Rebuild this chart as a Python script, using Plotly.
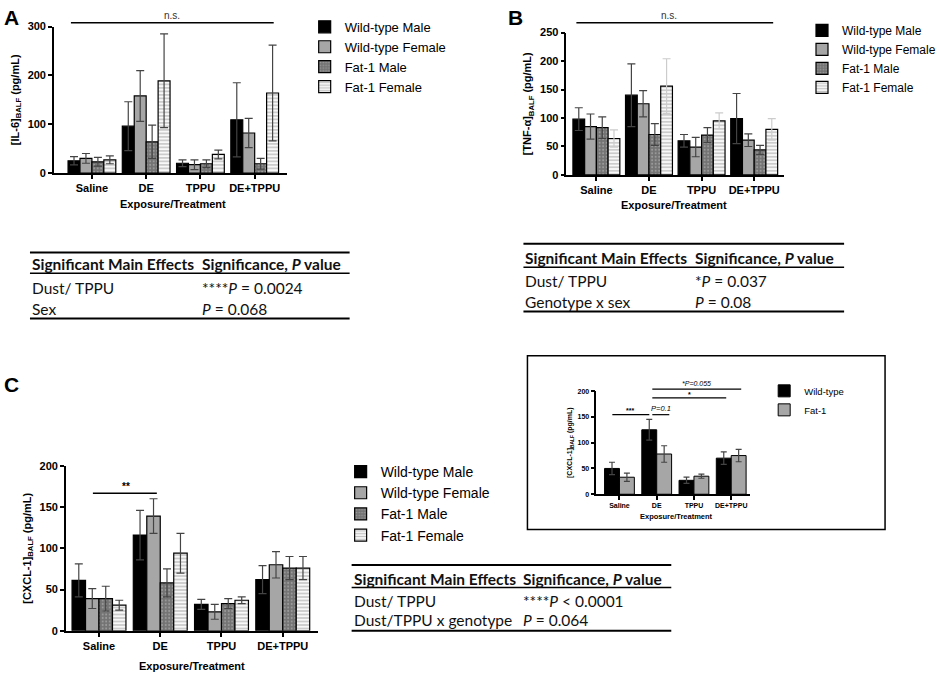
import plotly.graph_objects as go

W, H = 941, 681

# ---- data ----
categories = ["Saline", "DE", "TPPU", "DE+TPPU"]
groups4 = ["Wild-type Male", "Wild-type Female", "Fat-1 Male", "Fat-1 Female"]
groups2 = ["Wild-type", "Fat-1"]

il6_mean = [[25, 96, 20, 109], [30, 158, 17, 82], [23, 64, 19, 19], [27, 189, 38, 164]]
il6_err = [[8.5, 50, 7, 76], [10, 52, 10, 30], [9, 34, 8, 11], [8, 96, 9, 98]]

tnf_mean = [[98, 140, 60, 99], [85, 125, 49, 61], [83, 71, 70, 44], [64, 156, 95, 80]]
tnf_err = [[20, 55, 11, 44], [22, 23, 17, 11], [19, 19, 13, 8], [15, 48, 14, 19]]

cxcl_mean = [[61, 116, 32, 62], [39, 139, 23, 80], [39, 58, 33, 76], [31, 94, 37, 76]]
cxcl_err = [[20, 30, 6, 17], [12, 21, 9, 16], [15, 17, 6, 14], [6, 24, 4, 14]]

inset_mean = [[50, 125, 27, 70], [33, 78, 35, 75]]
inset_err = [[12, 20, 6, 12], [8, 16, 4, 12]]

table_a = [("Dust/ TPPU", "****<i>P</i> = 0.0024"), ("Sex", "<i>P</i> = 0.068")]
table_b = [("Dust/ TPPU", "*<i>P</i> = 0.037"), ("Genotype x sex", "<i>P</i> = 0.08")]
table_c = [("Dust/ TPPU", "****<i>P</i> < 0.0001"), ("Dust/TPPU x genotype", "<i>P</i> = 0.064")]


def fx(p):
    return p / W


def fy(p):
    return 1 - p / H


ARIAL = "Liberation Sans, Arial"
styles4 = [
    dict(color="#000000"),
    dict(color="#a6a6a6"),
    dict(color="#737373", pattern=dict(shape=".", fgcolor="#c4c4c4", bgcolor="#737373",
                                      size=3.5, solidity=0.25, fillmode="overlay")),
    dict(color="#f8f8f8", pattern=dict(shape="-", fgcolor="#8a8a8a", bgcolor="#f8f8f8",
                                      size=3.5, solidity=0.4, fillmode="overlay")),
]
styles2 = [dict(color="#000000"), dict(color="#a6a6a6")]

fig = go.Figure()


def add_panel(means, errs, names, styles, ax, leg, w, errcols=None, lw=1.2, cap=4):
    n = len(means)
    for i in range(n):
        ec = errcols[i] if errcols else "#444444"
        m = dict(styles[i])
        m["line"] = dict(color="black", width=lw)
        fig.add_trace(go.Bar(
            x=categories, y=means[i], name=names[i],
            width=w, offset=-w * n / 2 + i * w,
            marker=m,
            error_y=dict(type="data", array=errs[i], color=ec, thickness=1.2, width=cap),
            xaxis="x" + ax, yaxis="y" + ax, legend=leg,
        ))


add_panel(il6_mean, il6_err, groups4, styles4, "", "legend", 0.22)
add_panel(tnf_mean, tnf_err, groups4, styles4, "2", "legend2", 0.223,
          errcols=["#444444", "#444444", "#444444", "#cccccc"])
add_panel(cxcl_mean, cxcl_err, groups4, styles4, "3", "legend3", 0.22)
add_panel(inset_mean, inset_err, groups2, styles2, "4", "legend4", 0.4, lw=1, cap=3)


def xax(x0, x1, rng, fs):
    return dict(domain=[fx(x0), fx(x1)], range=rng, type="category",
                showline=True, linecolor="black", linewidth=1.5, ticks="outside",
                ticklen=4, tickwidth=1.5, tickcolor="black", showgrid=False,
                tickfont=dict(family=ARIAL, size=fs, color="black", weight="bold"),
                fixedrange=True)


def yax(y0, y1, rng, dtick, fs, title, tfs, standoff):
    return dict(domain=[fy(y0), fy(y1)], range=rng, dtick=dtick, showline=True,
                linecolor="black", linewidth=1.5, ticks="outside", ticklen=4,
                tickwidth=1.5, tickcolor="black", showgrid=False, zeroline=False,
                tickfont=dict(family=ARIAL, size=fs, color="black", weight="bold"),
                title=dict(text=title, standoff=standoff,
                           font=dict(family=ARIAL, size=tfs, color="black", weight="bold")),
                fixedrange=True)


fig.update_layout(
    width=W, height=H, autosize=False,
    margin=dict(l=0, r=0, t=0, b=0),
    paper_bgcolor="white", plot_bgcolor="white",
    barmode="overlay",
    xaxis=dict(xax(54, 287, [-0.7, 3.59], 11), anchor="y"),
    yaxis=dict(yax(170, 21, [0, 300], 100, 11, "[IL-6]<sub>BALF</sub> (pg/mL)", 11, 6),
               anchor="x"),
    xaxis2=dict(xax(567, 785, [-0.57, 3.57], 11), anchor="y2"),
    yaxis2=dict(yax(172, 27, [0, 250], 50, 11, "[TNF-α]<sub>BALF</sub> (pg/mL)", 11, 6),
                anchor="x2"),
    xaxis3=dict(xax(66, 318, [-0.54, 3.57], 11), anchor="y3"),
    yaxis3=dict(yax(636, 468, [0, 200], 50, 11, "[CXCL-1]<sub>BALF</sub> (pg/mL)", 11, 6),
                anchor="x3"),
    xaxis4=dict(xax(597, 751, [-0.62, 3.51], 7), anchor="y4"),
    yaxis4=dict(yax(497, 392, [0, 200], 50, 7, "[CXCL-1]<sub>BALF</sub> (pg/mL)", 7, 4),
                anchor="x4"),
    showlegend=True,
)

for k, x0, y0, fs in [("legend", 305, 6, 13), ("legend2", 803, 10, 12),
                      ("legend3", 341, 458, 14), ("legend4", 765, 377, 9.5)]:
    fig.layout[k] = dict(x=fx(x0), y=fy(y0), xanchor="left", yanchor="top",
                         bgcolor="rgba(0,0,0,0)", tracegroupgap=0,
                         font=dict(family=ARIAL, size=fs, color="black"))

ann = []
shapes = []


def text(x, y, s, size, family=ARIAL, xanchor="center", bold=False, angle=0, color="black"):
    ann.append(dict(x=fx(x), y=fy(y), xref="paper", yref="paper", text=s, showarrow=False,
                    xanchor=xanchor, yanchor="middle", textangle=angle,
                    font=dict(family=family, size=size, color=color,
                              weight="bold" if bold else "normal")))


def hline(x0, x1, y, width=1.5, color="black"):
    shapes.append(dict(type="line", xref="paper", yref="paper", x0=fx(x0), x1=fx(x1),
                       y0=fy(y), y1=fy(y), line=dict(color=color, width=width)))


# panel letters
text(2, 12, "A", 21, xanchor="left", bold=True)
text(507, 12, "B", 21, xanchor="left", bold=True)
text(2, 385, "C", 21, xanchor="left", bold=True)

# x titles
text(173, 202, "Exposure/Treatment", 11, bold=True)
text(675, 203, "Exposure/Treatment", 11, bold=True)
text(192, 672, "Exposure/Treatment", 11, bold=True)
text(677, 520, "Exposure/Treatment", 7.5, bold=True)

# significance bars
hline(71, 274, 17)
text(172, 10, "n.s.", 10, color="#333")
hline(577, 774, 17)
text(670, 10, "n.s.", 10, color="#333")
hline(93, 157, 496)
text(126, 489, "**", 10, bold=True)
hline(613, 650, 416, 1.2)
text(631, 412, "***", 7, bold=True)
hline(653, 670, 416, 1.2)
text(662, 410, "<i>P=0.1</i>", 7.5)
hline(653, 727, 399, 1.2)
text(690, 395, "*", 7, bold=True)
hline(653, 742, 390, 1.2)
text(697, 384, "<i>*P=0.055</i>", 7)

# inset box
shapes.append(dict(type="rect", xref="paper", yref="paper", x0=fx(528), x1=fx(886),
                   y0=fy(533), y1=fy(356), line=dict(color="black", width=1.5)))

# tables
TF = "Lato"
TS = 15.5


def table(x0, x1, xc, ytop, yhead, yline, yrows, ybot, rows):
    hline(x0, x1, ytop, 2)
    hline(x0, x1, yline, 1.5)
    hline(x0, x1, ybot, 2)
    text(x0, yhead, "<b>Significant Main Effects</b>", TS, family=TF, xanchor="left", color="#111")
    text(xc, yhead, "<b>Significance, <i>P</i> value</b>", TS, family=TF, xanchor="left", color="#111")
    for (a, b), yr in zip(rows, yrows):
        text(x0, yr, a, TS, family=TF, xanchor="left", color="#111")
        text(xc, yr, b, TS, family=TF, xanchor="left", color="#111")


table(30, 350, 200, 251, 263, 272, [287, 308], 318, table_a)
table(524, 845, 694, 242, 257, 266, [280, 301], 311, table_b)
table(352, 672, 522, 569, 583, 592, [606, 625], 636, table_c)

fig.update_layout(annotations=ann, shapes=shapes)
fig.write_html("out.html", config={"displayModeBar": False},
               post_script="document.body.style.margin='0px';")
